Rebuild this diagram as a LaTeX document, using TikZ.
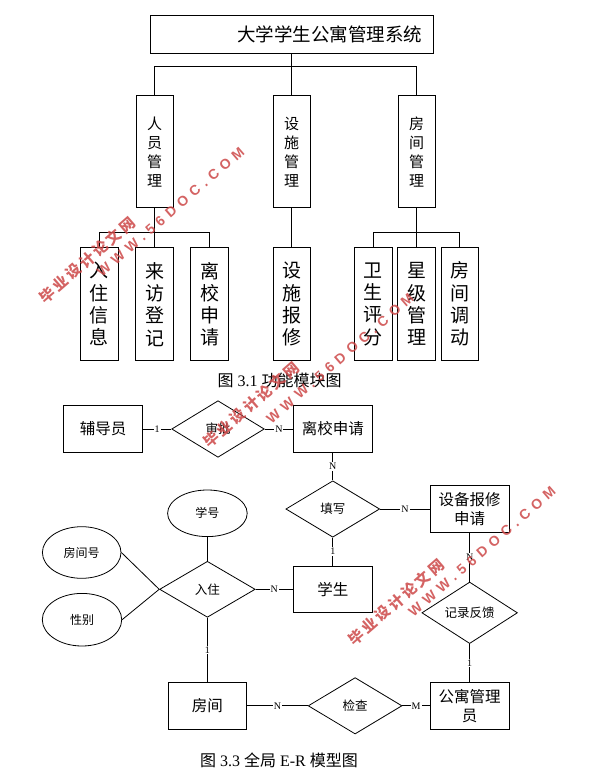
\documentclass[tikz,border=0pt]{standalone}
\usepackage{fontspec}
\setmainfont{Liberation Serif}
\newfontfamily\cjk{Noto Sans CJK SC}
\newfontfamily\wmcjk[LetterSpace=18]{Noto Sans CJK SC}
\newfontfamily\wmlat[LetterSpace=38]{Liberation Sans}
\usetikzlibrary{shapes.geometric}
\definecolor{wmred}{RGB}{205,72,72}
\begin{document}
\begin{tikzpicture}[x=1pt,y=-1pt,
  line width=0.8pt,
  vbox/.style={draw, rectangle, inner sep=0pt, minimum width=37pt, minimum height=112pt, align=center, font=\cjk\fontsize{15}{19}\selectfont},
  leaf/.style={draw, rectangle, inner sep=0pt, minimum width=37.4pt, minimum height=113pt, align=center, font=\cjk\fontsize{19}{22.3}\selectfont},
  ent/.style={draw, rectangle, inner sep=0pt, minimum width=78.6pt, minimum height=46.8pt, align=center, font=\cjk\fontsize{15.5}{18.6}\selectfont},
  rel/.style={draw, diamond, inner sep=0pt, minimum width=93.8pt, minimum height=56.4pt, font=\cjk\fontsize{12.5}{15}\selectfont},
  attr/.style={draw, ellipse, inner sep=0pt, minimum width=79.4pt, minimum height=50pt, font=\cjk\fontsize{12}{14}\selectfont},
  card/.style={fill=white, inner sep=1pt, font=\fontsize{10}{10}\selectfont},
  wmcn/.style={text=wmred, opacity=.85, font=\wmcjk\bfseries\fontsize{15}{15}\selectfont, inner sep=0pt, rotate=41},
  wmen/.style={text=wmred, opacity=.85, font=\wmlat\bfseries\fontsize{14}{14}\selectfont, inner sep=0pt, rotate=41},
  caption/.style={font=\fontsize{16}{18}\selectfont, inner sep=0pt}
]
\useasboundingbox[fill=white] (0,0) rectangle (588,775);

% ---------- Figure 3.1 ----------
\node[draw, rectangle, inner ysep=0pt, inner xsep=11pt, minimum height=37.6pt, text width=261pt, align=right, font=\cjk\fontsize{18.5}{20}\selectfont] (top) at (291.5,34.5) {大学学生公寓管理系统};

\node[vbox] (m1) at (154.5,151.7) {人\\员\\管\\理};
\node[vbox] (m2) at (291.6,151.7) {设\\施\\管\\理};
\node[vbox] (m3) at (416.5,151.7) {房\\间\\管\\理};

\node[leaf] (l1) at (99.3,304.2) {入\\住\\信\\息};
\node[leaf] (l2) at (154.5,304.2) {来\\访\\登\\记};
\node[leaf] (l3) at (209.5,304.2) {离\\校\\申\\请};
\node[leaf] (l4) at (291.6,304.2) {设\\施\\报\\修};
\node[leaf] (l5) at (373.3,304.2) {卫\\生\\评\\分};
\node[leaf] (l6) at (416.5,304.2) {星\\级\\管\\理};
\node[leaf] (l7) at (459.8,304.2) {房\\间\\调\\动};

\draw (m2.north |- top.south) -- (m2.north);
\draw (m1.north) -- ++(0,-28.4) -| (m3.north);
\draw (m1.south) -- (l2.north);
\draw (l1.north) -- ++(0,-14.4) -| (l3.north);
\draw (m2.south) -- (l4.north);
\draw (m3.south) -- (l6.north);
\draw (l5.north) -- ++(0,-14.4) -| (l7.north);

\node[caption] (cap1) at (279.5,380.7) {{\cjk 图} 3.1 {\cjk 功能模块图}};

% ---------- Figure 3.3 ----------
\node[ent] (fdy) at (103.1,429) {辅导员};
\node[rel, minimum width=92.6pt, minimum height=56.6pt] (sp) at (218,429) {审批};
\node[ent] (lx) at (332.75,429) {离校申请};
\node[rel] (tx) at (332.75,509) {填写};
\node[ent] (sb) at (469.65,509) {设备报修\\申请};
\node[attr, minimum width=79.6pt, minimum height=46.6pt] (xh) at (207.4,513.3) {学号};
\node[attr, minimum width=78.6pt, minimum height=51.6pt] (fjh) at (81.7,552.5) {房间号};
\node[rel, minimum width=95.6pt, minimum height=56pt] (rz) at (207.4,589.3) {入住};
\node[attr, minimum width=79.4pt, minimum height=52.6pt] (xb) at (82,619.7) {性别};
\node[ent] (xs) at (332.75,589.3) {学生};
\node[rel, minimum width=95.6pt, minimum height=55.6pt] (jl) at (469.65,612.8) {记录反馈};
\node[ent] (fj) at (207.4,705.8) {房间};
\node[rel] (jc) at (355.1,705.8) {检查};
\node[ent] (gy) at (469.65,705.8) {公寓管理\\员};

\draw (fdy) -- node[card]{1} (sp);
\draw (sp) -- node[card]{N} (lx);
\draw (lx) -- node[card]{N} (tx);
\draw (tx) -- node[card]{N} (sb);
\draw (tx) -- node[card]{1} (xs);
\draw (sb) -- node[card]{N} (jl);
\draw (jl) -- node[card]{1} (gy);
\draw (rz) -- node[card]{N} (xs);
\draw (rz) -- node[card]{1} (fj);
\draw (fj) -- node[card]{N} (jc);
\draw (jc) -- node[card]{M} (gy);
\draw (xh) -- (rz);
\draw (fjh.east) -- (rz.west);
\draw (xb.east) -- (rz.west);

\node[caption] (cap2) at (279,760) {{\cjk 图} 3.3 {\cjk 全局} E-R {\cjk 模型图}};

% ---------- watermarks ----------
\node[wmcn] (wa1) at (87,260) {毕业设计论文网};
\node[wmcn] (wb1) at (251,404.7) {毕业设计论文网};
\node[wmcn] (wc1) at (396,602) {毕业设计论文网};
\node[wmen] (wa2) at (170.7,212) {WWW.56DOC.COM};
\node[wmen] (wb2) at (340,358.3) {WWW.56DOC.COM};
\node[wmen] (wc2) at (482,551.7) {WWW.56DOC.COM};
\end{tikzpicture}
\end{document}
